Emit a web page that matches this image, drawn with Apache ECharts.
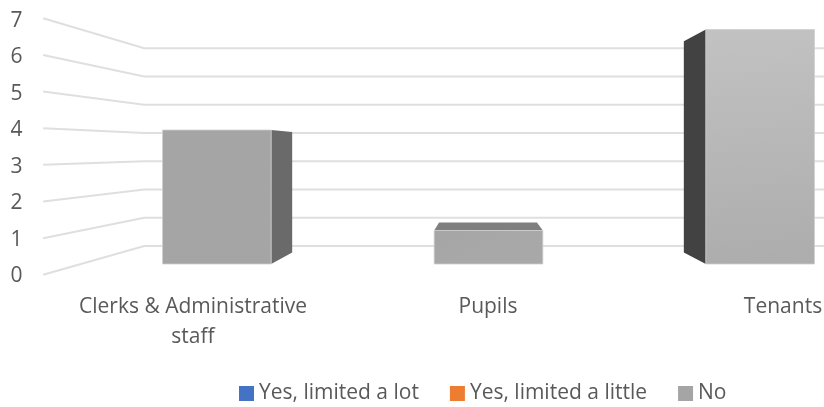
<!DOCTYPE html>
<html><head><meta charset="utf-8">
<style>html,body{margin:0;padding:0;background:#fff}#c{width:824px;height:407px}</style>
<script src="https://cdn.jsdelivr.net/npm/echarts@6/dist/echarts.min.js"></script>
</head><body><div id="c"></div>
<script>
const categories = ['Clerks & Administrative\nstaff', 'Pupils', 'Tenants'];
const yTicks = [0, 1, 2, 3, 4, 5, 6, 7];
const limitedLot = [0, 0, 0];
const limitedLittle = [0, 0, 0];
const noValues = [4, 1, 7];

// perspective: vanishing point and depth scale of each plane
const VP = [483.5, 149];
const S_EDGE = 1.094, S_WALL = 0.843, S_BARBACK = 0.901;
const project = (p, s) => [VP[0] + s * (p[0] - VP[0]), VP[1] + s * (p[1] - VP[1])];

const faces = {
  0: { front: '#a5a5a5', frontEnd: '#a5a5a5', side: '#6a6a6a', top: '#7f7f7f' },
  1: { front: '#a5a5a5', frontEnd: '#a8a8a8', side: '#6a6a6a', top: '#7f7f7f' },
  2: { front: '#c2c2c2', frontEnd: '#adadad', side: '#424242', top: '#7f7f7f' }
};

function renderWall(params, api) {
  const v = api.value(0);
  const band = api.size([1, 0])[0];
  const left = api.coord([0, v]);
  const right = api.coord([2, v]);
  const a = project([left[0] - band / 2, left[1]], S_EDGE);
  const b = project([left[0] - band / 2, left[1]], S_WALL);
  const c = project([right[0] + band / 2, right[1]], S_WALL);
  return { type: 'polyline', shape: { points: [a, b, c] },
    style: { fill: null, stroke: '#dfdfdf', lineWidth: 2 }, silent: true };
}

function renderBar(params, api) {
  const i = api.value(0), v = api.value(1);
  const base = api.coord([i, 0]), top = api.coord([i, v]);
  const w = api.size([1, 0])[0] * 0.4;
  const x0 = base[0] - w / 2, x1 = base[0] + w / 2;
  const f = faces[i];
  const bl = project([x0, base[1]], S_BARBACK), br = project([x1, base[1]], S_BARBACK);
  const tl = project([x0, top[1]], S_BARBACK), tr = project([x1, top[1]], S_BARBACK);
  const children = [];
  const poly = (pts, fill) => children.push({ type: 'polygon', shape: { points: pts }, style: { fill: fill }, silent: true });
  if (br[0] > x1) poly([[x1, top[1]], tr, br, [x1, base[1]]], f.side);
  if (bl[0] < x0) poly([[x0, top[1]], tl, bl, [x0, base[1]]], f.side);
  if (tl[1] < top[1]) poly([[x0, top[1]], tl, tr, [x1, top[1]]], f.top);
  children.push({ type: 'rect', shape: { x: x0, y: top[1], width: w, height: base[1] - top[1] },
    style: { fill: new echarts.graphic.LinearGradient(0, 0, 0.15, 1, [
      { offset: 0, color: f.front }, { offset: 1, color: f.frontEnd }]),
      stroke: '#cfcfcf', lineWidth: 0.8 }, silent: true });
  return { type: 'group', children };
}

const font = '"Open Sans", "Noto Sans", sans-serif';
const chart = echarts.init(document.getElementById('c'), null, { renderer: 'canvas' });
chart.setOption({
  animation: false,
  backgroundColor: '#fff',
  grid: [
    { left: 45.5, width: 885, top: 21, height: 255.5, outerBoundsMode: 'none' },
    { left: 81, width: 815, top: 29.5, height: 234.5, outerBoundsMode: 'none' }
  ],
  xAxis: [
    { type: 'category', gridIndex: 0, data: categories,
      axisLine: { show: false }, axisTick: { show: false },
      axisLabel: { interval: 0, hideOverlap: false, margin: 15.5, color: '#595959', fontFamily: font, fontSize: 21, lineHeight: 30 } },
    { type: 'category', gridIndex: 1, data: categories, show: false }
  ],
  yAxis: [
    { type: 'value', gridIndex: 0, min: 0, max: 7, interval: 1,
      axisLine: { show: false }, axisTick: { show: false }, splitLine: { show: false },
      axisLabel: { margin: 23, color: '#595959', fontFamily: font, fontSize: 21 } },
    { type: 'value', gridIndex: 1, min: 0, max: 7, interval: 1, show: false, splitLine: { show: false } }
  ],
  legend: {
    left: 234, top: 378, icon: 'rect', itemWidth: 15, itemHeight: 15, itemGap: 31,
    data: ['Yes, limited a lot', 'Yes, limited a little', 'No'],
    textStyle: { color: '#595959', fontFamily: font, fontSize: 21 },
    selectedMode: false
  },
  series: [
    { name: 'wall', type: 'custom', xAxisIndex: 1, yAxisIndex: 1, z: 1, renderItem: renderWall,
      data: yTicks.map(v => [v]), encode: { y: 0 }, silent: true },
    { name: 'Yes, limited a lot', type: 'bar', xAxisIndex: 1, yAxisIndex: 1, data: limitedLot, itemStyle: { color: '#4472c4' } },
    { name: 'Yes, limited a little', type: 'bar', xAxisIndex: 1, yAxisIndex: 1, data: limitedLittle, itemStyle: { color: '#ed7d31' } },
    { name: 'No', type: 'custom', xAxisIndex: 1, yAxisIndex: 1, z: 3, renderItem: renderBar,
      itemStyle: { color: '#a5a5a5' },
      data: noValues.map((v, i) => [i, v]), encode: { x: 0, y: 1 } }
  ]
});
</script></body></html>
